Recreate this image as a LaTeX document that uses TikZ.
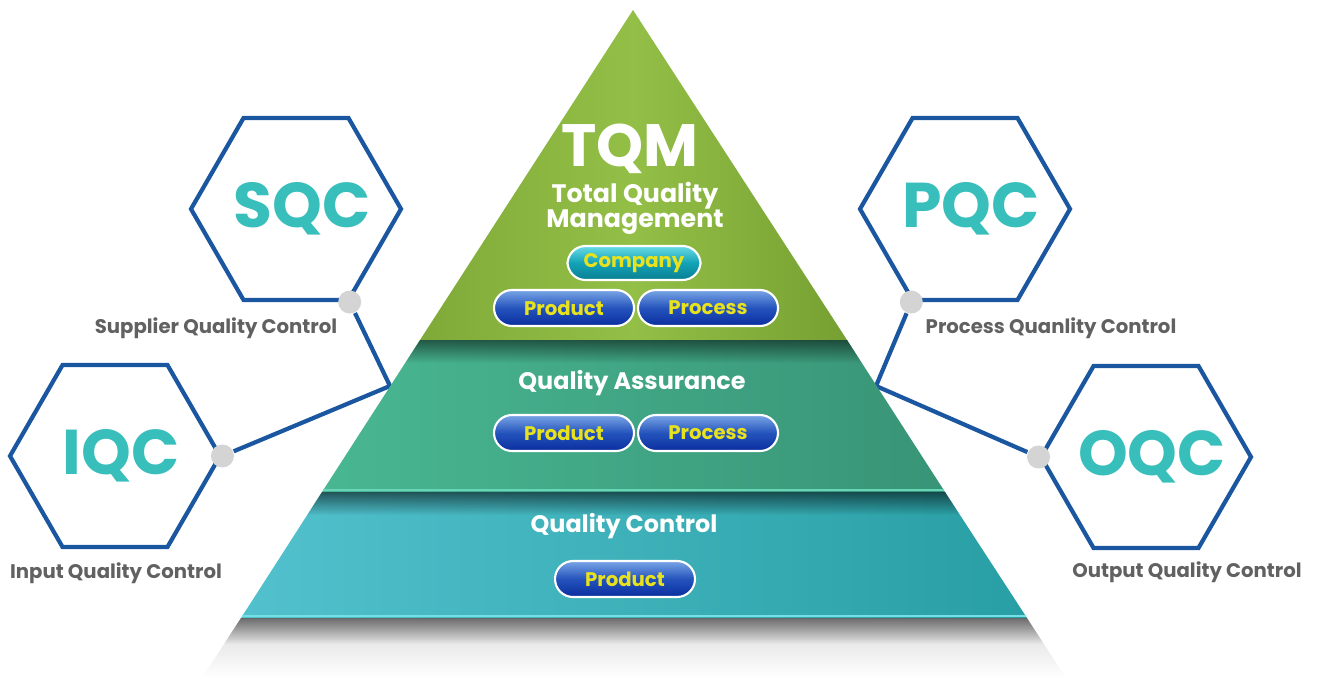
\documentclass[tikz,border=0pt]{standalone}
\usepackage{fontspec}
\setmainfont{Poppins}
\usetikzlibrary{shapes.geometric,fadings}

\definecolor{hexblue}{HTML}{1B57A0}
\definecolor{hexteal}{HTML}{38BEBB}
\definecolor{labelgray}{HTML}{616161}
\definecolor{dotgray}{HTML}{D4D4D4}
\definecolor{grnedge}{HTML}{80AA38}
\definecolor{grnmid}{HTML}{93BF47}
\definecolor{grnedgeR}{HTML}{76A031}
\definecolor{midL}{HTML}{49B792}
\definecolor{midR}{HTML}{389476}
\definecolor{midhl}{HTML}{66D6B6}
\definecolor{cyanL}{HTML}{52C1CD}
\definecolor{cyanR}{HTML}{289FA4}
\definecolor{cyanhl}{HTML}{74E0E6}
\definecolor{btntop}{HTML}{7AA6E6}
\definecolor{btnmid}{HTML}{2453BC}
\definecolor{btnbot}{HTML}{0A2E9E}
\definecolor{cmptop}{HTML}{6ADCE6}
\definecolor{cmpmid}{HTML}{12A2B6}
\definecolor{cmpbot}{HTML}{0A7F92}
\definecolor{btntext}{HTML}{E8E21E}

\tikzset{
  hexa/.style={regular polygon, regular polygon sides=6, minimum size=2.1cm,
    inner sep=0pt, draw=hexblue, line width=1.2pt,
    label={[text=hexteal, xshift=0.06cm, font=\fontsize{18}{18}\selectfont\bfseries]center:#1}},
  dot/.style={circle, fill=dotgray, minimum size=0.23cm, inner sep=0pt},
  link/.style={draw=hexblue, line width=1.2pt},
  hexlabel/.style={text=labelgray, font=\fontsize{5.6}{6}\selectfont\bfseries},
  btn/.style={rounded corners=0.18cm, draw=white, line width=0.6pt,
    minimum width=1.4cm, minimum height=0.36cm, inner sep=0pt,
    top color=btntop, bottom color=btnbot, middle color=btnmid,
    text=btntext, font=\fontsize{5.6}{5.6}\selectfont\bfseries},
  cmpbtn/.style={btn, minimum width=1.33cm, minimum height=0.34cm,
    top color=cmptop, bottom color=cmpbot, middle color=cmpmid},
  bandtitle/.style={text=white, font=\fontsize{6.8}{6.8}\selectfont\bfseries}
}

\begin{document}
\begin{tikzpicture}
    \useasboundingbox (0,0) rectangle (13.2,6.78);

    % hexagons
    \node[hexa=SQC] (sqc) at (2.96,4.69) {};
    \node[hexa=IQC] (iqc) at (1.15,2.22) {};
    \node[hexa=PQC] (pqc) at (9.65,4.69) {};
    \node[hexa=OQC] (oqc) at (11.46,2.21) {};

    \node[hexlabel] (sqclabel) at (2.16,3.50) {Supplier Quality Control};
    \node[hexlabel] (iqclabel) at (1.16,1.05) {Input Quality Control};
    \node[hexlabel] (pqclabel) at (10.51,3.50) {Process Quanlity Control};
    \node[hexlabel] (oqclabel) at (11.87,1.06) {Output Quality Control};

    \node[dot] (sqcdot) at (sqc.-60) {};
    \node[dot] (iqcdot) at (iqc.0) {};
    \node[dot] (pqcdot) at (pqc.240) {};
    \node[dot] (oqcdot) at (oqc.180) {};

    \coordinate (ljoin) at (3.90,2.92);
    \coordinate (rjoin) at (8.76,2.92);

    \draw[link] (sqcdot) -- (ljoin) -- (iqcdot);
    \draw[link] (pqcdot) -- (rjoin) -- (oqcdot);

    % pyramid
    \shade[left color=grnedge, right color=grnedgeR, middle color=grnmid]
        (6.33,6.68) -- (8.47,3.38) -- (4.20,3.38) -- cycle;
    \shade[left color=midL, right color=midR]
        (4.20,3.38) -- (8.47,3.38) -- (9.45,1.86) -- (3.22,1.86) -- cycle;
    \fill[black, opacity=0.5, path fading=south]
        (4.20,3.38) -- (8.47,3.38) -- (8.62,3.15) -- (4.05,3.15) -- cycle;
    \draw[midhl, line width=0.8pt] (3.23,1.88) -- (9.44,1.88);
    \shade[left color=cyanL, right color=cyanR]
        (3.22,1.86) -- (9.45,1.86) -- (10.27,0.60) -- (2.41,0.60) -- cycle;
    \fill[black, opacity=0.55, path fading=south]
        (3.22,1.86) -- (9.45,1.86) -- (9.60,1.63) -- (3.07,1.63) -- cycle;
    \draw[cyanhl, line width=0.8pt] (2.42,0.62) -- (10.26,0.62);
    % reflection below
    \fill[black, opacity=0.15, path fading=south]
        (2.41,0.60) -- (10.27,0.60) -- (10.66,0.0) -- (2.02,0.0) -- cycle;
    \fill[black, opacity=0.5, path fading=south]
        (2.41,0.60) -- (10.27,0.60) -- (10.44,0.34) -- (2.24,0.34) -- cycle;

    % texts and buttons
    \node[text=white, font=\fontsize{17}{17}\selectfont\bfseries] (tqm) at (6.30,5.29) {TQM};
    \node[bandtitle, align=center, font=\fontsize{7.2}{7.2}\selectfont\bfseries] (tqmname) at (6.35,4.70) {Total Quality\\Management};
    \node[cmpbtn] (company) at (6.34,4.15) {Company};
    \node[btn] (product1) at (5.64,3.70) {Product};
    \node[btn] (process1) at (7.08,3.70) {Process};

    \node[bandtitle] (qa) at (6.32,2.95) {Quality Assurance};
    \node[btn] (product2) at (5.64,2.45) {Product};
    \node[btn] (process2) at (7.08,2.45) {Process};

    \node[bandtitle] (qc) at (6.24,1.52) {Quality Control};
    \node[btn] (product3) at (6.25,0.99) {Product};
\end{tikzpicture}
\end{document}
